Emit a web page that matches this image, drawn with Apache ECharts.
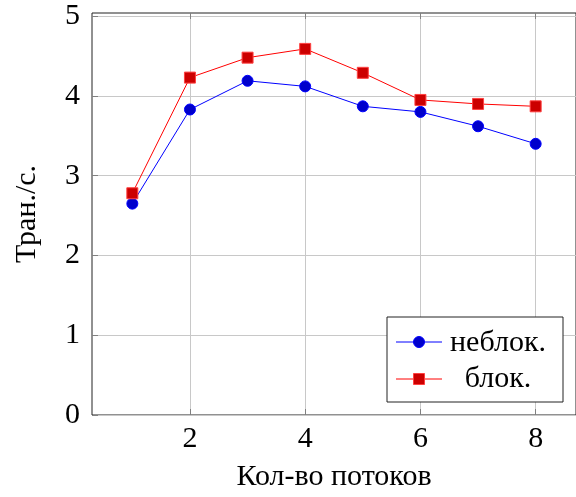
<!DOCTYPE html>
<html><head><meta charset="utf-8">
<script src="https://cdn.jsdelivr.net/npm/echarts@6/dist/echarts.min.js"></script>
<style>html,body{margin:0;padding:0;background:#fff}#c{width:576px;height:497px}</style>
</head><body><div id="c"></div>
<script>
const threads = [1, 2, 3, 4, 5, 6, 7, 8];
const nonblocking = [2.65, 3.83, 4.19, 4.12, 3.87, 3.80, 3.62, 3.40];
const blocking = [2.78, 4.23, 4.48, 4.59, 4.29, 3.95, 3.90, 3.87];
const xTicks = [2, 4, 6, 8];
const yTicks = [0, 1, 2, 3, 4, 5];
const seriesNames = ['неблок.', 'блок.'];
const xTitle = 'Кол-во потоков';
const yTitle = 'Тран./с.';

const FONT = 'Liberation Serif';
const FS = 30;
const chart = echarts.init(document.getElementById('c'));
const pair = (xs, ys) => xs.map((x, i) => [x, ys[i]]);
const gridColor = '#c8c8c8';
const tickStyle = (vals) => ({show: true, inside: true, length: 6, customValues: vals,
  lineStyle: {color: '#808080', width: 1}});
chart.setOption({
  animation: false,
  grid: {left: 92, top: 13, right: -3, bottom: 82, show: true, borderColor: '#222', borderWidth: 1},
  xAxis: [{
    type: 'value', min: 0.3, max: 8.7,
    axisLine: {show: false},
    axisTick: tickStyle(xTicks),
    splitLine: {show: true, lineStyle: {color: gridColor, width: 1}},
    axisLabel: {fontFamily: FONT, fontSize: FS, color: '#000', margin: 9, customValues: xTicks},
    name: xTitle, nameLocation: 'middle', nameGap: 47,
    nameTextStyle: {fontFamily: FONT, fontSize: FS, color: '#000'}
  }, {
    type: 'value', min: 0.3, max: 8.7, position: 'top',
    axisLine: {show: false},
    axisTick: tickStyle(xTicks),
    splitLine: {show: false},
    axisLabel: {show: false}
  }],
  yAxis: [{
    type: 'value', min: 0, max: 5.04,
    axisLine: {show: false},
    axisTick: tickStyle(yTicks),
    splitLine: {show: true, lineStyle: {color: gridColor, width: 1}},
    axisLabel: {fontFamily: FONT, fontSize: FS, color: '#000', margin: 12, customValues: yTicks},
    name: yTitle, nameLocation: 'middle', nameGap: 50, nameRotate: 90,
    nameTextStyle: {fontFamily: FONT, fontSize: FS, color: '#000'}
  }],
  series: [
    {name: seriesNames[0], type: 'line', data: pair(threads, nonblocking),
     symbol: 'circle', symbolSize: 11,
     lineStyle: {color: '#0000ff', width: 1},
     itemStyle: {color: '#0000cc', borderColor: '#0000ff', borderWidth: 1}},
    {name: seriesNames[1], type: 'line', data: pair(threads, blocking),
     symbol: 'rect', symbolSize: 11,
     lineStyle: {color: '#ff0000', width: 1},
     itemStyle: {color: '#cc0000', borderColor: '#ff4040', borderWidth: 1}}
  ],
  graphic: [
    {type: 'rect', shape: {x: 387, y: 317, width: 176, height: 85},
     style: {fill: '#fff', stroke: '#222', lineWidth: 1}, z: 100},
    {type: 'line', shape: {x1: 396, y1: 342, x2: 442, y2: 342}, style: {stroke: '#0000ff', lineWidth: 1}, z: 101},
    {type: 'circle', shape: {cx: 419, cy: 342, r: 5.5}, style: {fill: '#0000cc', stroke: '#0000ff'}, z: 102},
    {type: 'line', shape: {x1: 396, y1: 379, x2: 442, y2: 379}, style: {stroke: '#ff0000', lineWidth: 1}, z: 101},
    {type: 'rect', shape: {x: 413.5, y: 373.5, width: 11, height: 11}, style: {fill: '#cc0000', stroke: '#ff4040'}, z: 102},
    {type: 'text', x: 498, y: 343, z: 102,
     style: {text: seriesNames[0], font: FS + 'px "Liberation Serif"', fill: '#000', textAlign: 'center', textVerticalAlign: 'middle'}},
    {type: 'text', x: 498, y: 379, z: 102,
     style: {text: seriesNames[1], font: FS + 'px "Liberation Serif"', fill: '#000', textAlign: 'center', textVerticalAlign: 'middle'}}
  ]
});
</script></body></html>
